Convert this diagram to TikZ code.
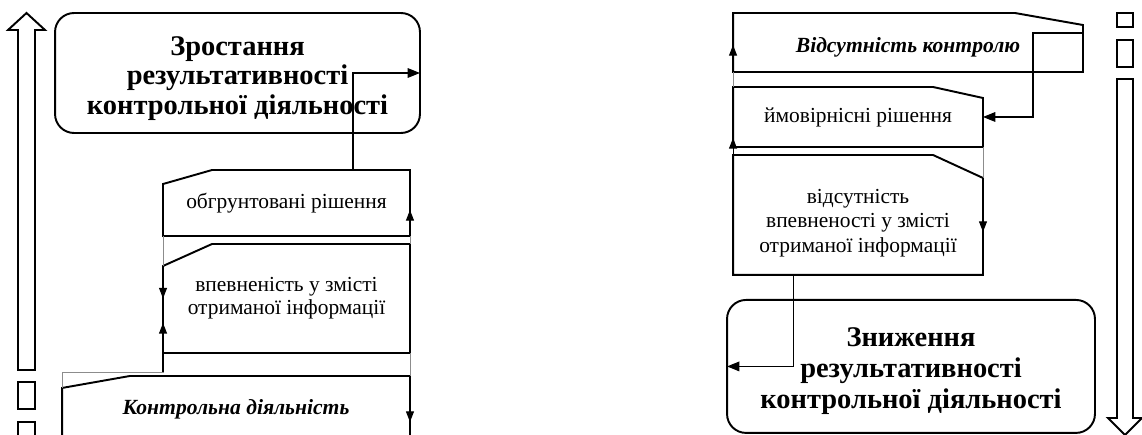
\documentclass[tikz,border=0pt]{standalone}
\usepackage{fontspec}
\setmainfont{Liberation Serif}
\usetikzlibrary{positioning,calc,arrows.meta}

\begin{document}
\begin{tikzpicture}[x=0.02cm, y=-0.02cm,
  boxnode/.style={inner sep=0pt, outer sep=0pt, align=center},
  goalnode/.style={boxnode, draw, line width=1.1pt, rounded corners=0.38cm, font=\fontsize{16.2}{17}\selectfont\bfseries},
  stepnode/.style={boxnode, font=\fontsize{12.2}{13}\selectfont},
  keynode/.style={boxnode, font=\fontsize{12.3}{15}\selectfont\bfseries\itshape},
  edge/.style={line width=1.1pt, line join=miter},
  seam/.style={black!45, line width=0.5pt},
  flow/.style={line width=0.6pt, -{Triangle[length=7pt,width=5.5pt]}},
  tick/.style={line width=0.6pt, -{Triangle[length=6pt,width=4.5pt]}},
  bigarrow/.style={line width=1.1pt, line join=miter}]

\useasboundingbox (0,0) rectangle (1142,435);
\clip (0,0) rectangle (1142,435);

%Nodes
\node[goalnode, minimum width=7.3cm, minimum height=2.4cm] (goal) at (237.5,73) {\rule{0pt}{17pt}Зростання\\результативності\\контрольної діяльності};
\node[stepnode, minimum width=4.94cm, minimum height=1.32cm] (dec1) at (286.5,203) {обгрунтовані рішення};
\node[stepnode, minimum width=4.94cm, minimum height=2.18cm] (conf) [below=0.16cm of dec1] {впевненість у змісті\\отриманої інформації};
\node[keynode, minimum width=6.96cm, minimum height=1.32cm] (ctrl) [below=0.46cm of conf.south east, anchor=north east] {Контрольна діяльність};

\node[keynode, minimum width=7cm, minimum height=1.18cm] (ctrl2) at (908,42.5) {\rule{0pt}{14pt}Відсутність контролю};
\node[stepnode, minimum width=5cm, minimum height=1.2cm] (prob) [below=0.3cm of ctrl2.south west, anchor=north west] {ймовірнісні рішення};
\node[stepnode, font=\fontsize{12.2}{14}\selectfont, minimum width=5cm, minimum height=2.4cm] (nconf) [below=0.16cm of prob] {\rule{0pt}{17pt}відсутність\\впевненості у змісті\\отриманої інформації};
\node[goalnode, font=\fontsize{16.2}{17.6}\selectfont\bfseries, minimum width=7.36cm, minimum height=2.66cm] (goal2) [below=0.5cm of nconf.south west, anchor=north west, xshift=-0.12cm] {\rule{0pt}{16.5pt}Зниження\\результативності\\контрольної діяльності};

%outlines
\draw[edge] ($(dec1.north west)+(0,14)$) -- ($(dec1.north west)+(49,0)$) -- (dec1.north east) -- (dec1.south east) -- (dec1.south west) -- cycle;
\draw[edge] ($(conf.north west)+(0,22)$) -- ($(conf.north west)+(49,0)$) -- (conf.north east) -- (conf.south east) -- (conf.south west) -- cycle;
\draw[edge] ($(ctrl.north west)+(0,12)$) -- ($(ctrl.north west)+(68,0)$) -- (ctrl.north east) -- (ctrl.south east) -- (ctrl.south west) -- cycle;
\draw[edge] (ctrl2.north west) -- ($(ctrl2.north east)+(-68,0)$) -- ($(ctrl2.north east)+(0,12)$) -- (ctrl2.south east) -- (ctrl2.south west) -- cycle;
\draw[edge] (prob.north west) -- ($(prob.north east)+(-50,0)$) -- ($(prob.north east)+(0,11)$) -- (prob.south east) -- (prob.south west) -- cycle;
\draw[edge] (nconf.north west) -- ($(nconf.north east)+(-50,0)$) -- ($(nconf.north east)+(0,23)$) -- (nconf.south east) -- (nconf.south west) -- cycle;

%seams
\draw[seam] (dec1.south west) -- ($(conf.north west)+(0,22)$);
\draw[seam] (dec1.south east) -- (conf.north east);
\draw[seam] (conf.south west) |- ($(ctrl.north west)+(0,-4)$) -- ($(ctrl.north west)+(0,12)$);
\draw[seam] (conf.south east) -- (ctrl.north east);
\draw[seam] (ctrl2.south west) -- (prob.north west);
\draw[seam] (prob.south east) -- ($(nconf.north east)+(0,23)$);
\draw[seam] (prob.south west) -- (nconf.north west);

%line
\draw[flow] ([xshift=1.33cm]dec1.north) |- (goal.east);
\draw[flow] ([yshift=0.19cm]ctrl2.east) -- ++(-50,0) |- (prob.east);
\draw[flow] ([xshift=-1.3cm]nconf.south) |- (goal2.west);

\draw[tick] (dec1.south east) -- ($(dec1.east)+(0,7)$);
\draw[tick] ($(conf.north west)+(0,22)$) -- (conf.west);
\draw[tick] ($(conf.south west)+(0,19)$) -- ($(conf.south west)+(0,-30)$);
\draw[tick] (ctrl.north east) -- ($(ctrl.north east)+(0,46)$);
\draw[tick] (ctrl2.south west) -- ($(ctrl2.south west)+(0,-27)$);
\draw[tick] (nconf.north west) -- ($(prob.south west)+(0,-9)$);
\draw[tick] ($(nconf.north east)+(0,23)$) -- ($(nconf.north east)+(0,77)$);

%big arrows
\draw[bigarrow] (18,370) -- (18,30) -- (8,30) -- (26.5,13) -- (45,30) -- (35,30) -- (35,370) -- cycle;
\draw[bigarrow] (18,382) rectangle (35,409);
\draw[bigarrow] (18,422) rectangle (35,450);
\draw[bigarrow] (1117,79) -- (1117,418) -- (1108,418) -- (1125,435) -- (1142,418) -- (1133,418) -- (1133,79) -- cycle;
\draw[bigarrow] (1117,13) rectangle (1133,27);
\draw[bigarrow] (1117,40) rectangle (1133,67);

\end{tikzpicture}
\end{document}
